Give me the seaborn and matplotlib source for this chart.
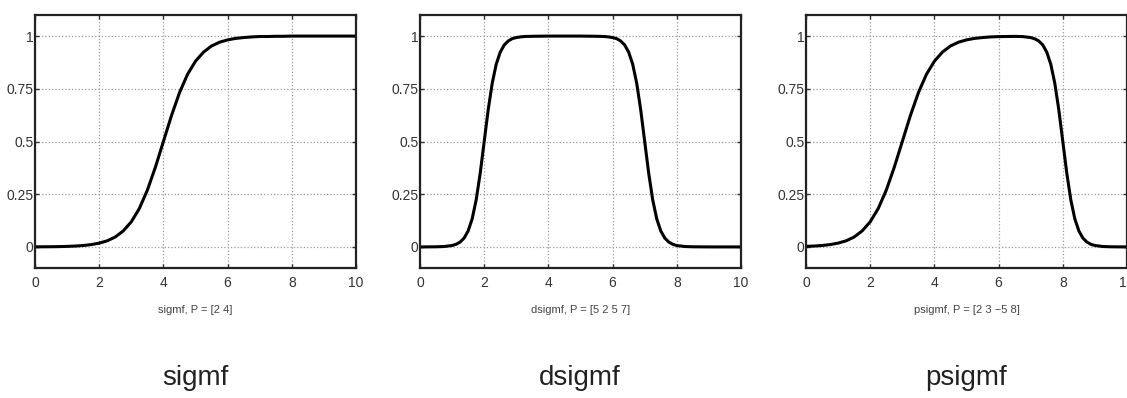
import matplotlib
matplotlib.use("Agg")
import matplotlib.pyplot as plt
import seaborn as sns
import pandas as pd
import numpy as np

# style
sns.set_style("ticks")
plt.rcParams['font.family'] = ['Liberation Sans Narrow', 'Liberation Sans', 'DejaVu Sans']

# sigmf, P = [2 4]
sigmf_x = [0, 0.25, 0.5, 0.75, 1, 1.25, 1.5, 1.75, 2, 2.25, 2.5, 2.75, 3, 3.25, 3.5, 3.75,
           4, 4.25, 4.5, 4.75, 5, 5.25, 5.5, 5.75, 6, 6.25, 6.5, 6.75, 7, 7.25, 7.5, 7.75,
           8, 8.25, 8.5, 8.75, 9, 9.25, 9.5, 9.75, 10]
sigmf_y = [0.0003, 0.0006, 0.0009, 0.0015, 0.0025, 0.0041, 0.0067, 0.011, 0.018, 0.029,
           0.047, 0.076, 0.119, 0.182, 0.269, 0.378, 0.5, 0.622, 0.731, 0.818, 0.881,
           0.924, 0.953, 0.971, 0.982, 0.989, 0.993, 0.996, 0.998, 0.998, 0.999, 0.999,
           1.0, 1.0, 1.0, 1.0, 1.0, 1.0, 1.0, 1.0, 1.0]

# dsigmf, P = [5 2 5 7]
dsigmf_x = [0, 0.25, 0.5, 0.75, 1, 1.125, 1.25, 1.375, 1.5, 1.625, 1.75, 1.875, 2, 2.125,
            2.25, 2.375, 2.5, 2.625, 2.75, 2.875, 3, 3.125, 3.25, 3.5, 4, 4.5, 5, 5.5, 5.75,
            5.875, 6, 6.125, 6.25, 6.375, 6.5, 6.625, 6.75, 6.875, 7, 7.125, 7.25, 7.375,
            7.5, 7.625, 7.75, 7.875, 8, 8.25, 8.5, 9, 10]
dsigmf_y = [0.0, 0.0002, 0.0006, 0.0019, 0.0067, 0.0124, 0.023, 0.042, 0.076, 0.133, 0.223,
            0.349, 0.5, 0.651, 0.777, 0.867, 0.924, 0.958, 0.977, 0.988, 0.993, 0.996, 0.998,
            0.999, 1.0, 1.0, 1.0, 0.999, 0.998, 0.996, 0.993, 0.988, 0.977, 0.958, 0.924,
            0.867, 0.777, 0.651, 0.5, 0.349, 0.223, 0.133, 0.076, 0.042, 0.023, 0.0124,
            0.0067, 0.0019, 0.0006, 0.0, 0.0]

# psigmf, P = [2 3 -5 8]
psigmf_x = [0, 0.25, 0.5, 0.75, 1, 1.25, 1.5, 1.75, 2, 2.25, 2.5, 2.75, 3, 3.25, 3.5, 3.75,
            4, 4.25, 4.5, 4.75, 5, 5.25, 5.5, 5.75, 6, 6.25, 6.5, 6.75, 7, 7.125, 7.25,
            7.375, 7.5, 7.625, 7.75, 7.875, 8, 8.125, 8.25, 8.375, 8.5, 8.625, 8.75, 8.875,
            9, 9.25, 9.5, 9.75, 10]
psigmf_y = [0.0025, 0.0041, 0.0067, 0.011, 0.018, 0.029, 0.047, 0.076, 0.119, 0.182, 0.269,
            0.378, 0.5, 0.622, 0.731, 0.818, 0.881, 0.924, 0.953, 0.971, 0.982, 0.989, 0.993,
            0.996, 0.9975, 0.998, 0.9986, 0.9976, 0.993, 0.987, 0.977, 0.958, 0.924, 0.867,
            0.777, 0.651, 0.5, 0.349, 0.223, 0.133, 0.076, 0.042, 0.023, 0.0124, 0.0067,
            0.0019, 0.0006, 0.0002, 0.0001]

names = ['sigmf', 'dsigmf', 'psigmf']
xlabels = ['sigmf, P = [2 4]', 'dsigmf, P = [5 2 5 7]', 'psigmf, P = [2 3 \u22125 8]']
series = [(sigmf_x, sigmf_y), (dsigmf_x, dsigmf_y), (psigmf_x, psigmf_y)]
xticks = [0, 2, 4, 6, 8, 10]
yticks = [0, 0.25, 0.5, 0.75, 1]
ytick_labels = ['0', '0.25', '0.5', '0.75', '1']

fig = plt.figure(figsize=(11.27, 3.98), dpi=100)
lefts = [35, 420, 806]
for i in range(3):
    ax = fig.add_axes([lefts[i] / 1127, (398 - 268) / 398, 321 / 1127, 253 / 398])
    df = pd.DataFrame({'x': series[i][0], 'y': series[i][1]})
    sns.lineplot(data=df, x='x', y='y', ax=ax, color='black', linewidth=2.2)
    ax.set_xlim(0, 10)
    ax.set_ylim(-0.1, 1.1)
    ax.set_xticks(xticks)
    ax.set_yticks(yticks)
    ax.set_yticklabels(ytick_labels)
    ax.grid(True, linestyle=':', color='#9a9a9a', linewidth=0.9)
    ax.tick_params(direction='in', length=3, width=1, top=True, right=True,
                   labelsize=10, colors='#333333')
    ax.tick_params(axis='x', pad=6)
    ax.tick_params(axis='y', pad=1)
    for sp in ax.spines.values():
        sp.set_linewidth(1.6)
        sp.set_color('#222222')
    ax.set_xlabel(xlabels[i], fontsize=8, color='#444444')
    ax.xaxis.set_label_coords(0.5, -0.145)
    ax.set_ylabel('')
    fig.text((lefts[i] + 160) / 1127, 13 / 398, names[i], ha='center', va='baseline',
             fontsize=20, color='#222222')

fig.savefig('out.png', dpi=100)
